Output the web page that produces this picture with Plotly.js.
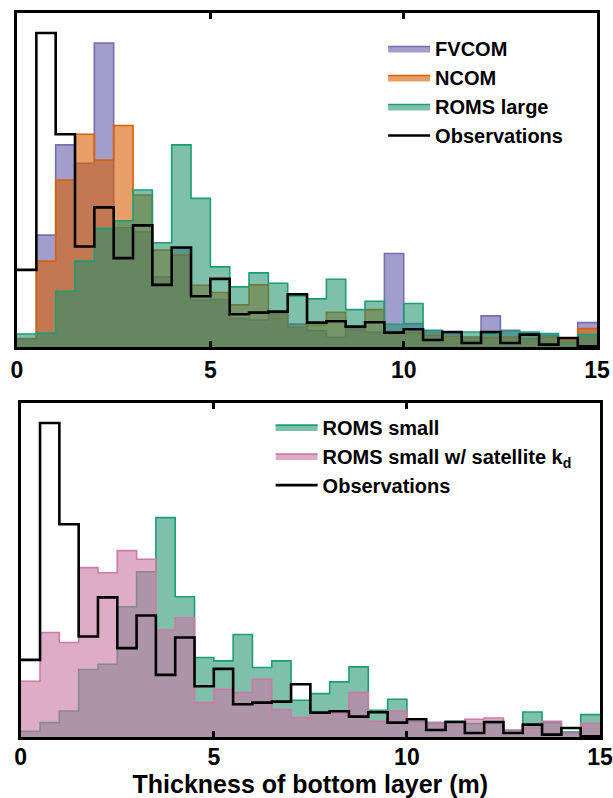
<!DOCTYPE html>
<html>
<head>
<meta charset="utf-8">
<script src="https://cdn.plot.ly/plotly-3.0.1.min.js"></script>
<style>html,body{margin:0;padding:0;background:#fff;}#chart{width:613px;height:798px;}</style>
</head>
<body>
<div id="chart"></div>
<script>
// Bin edges (m), bin width 0.5
const binEdges = [0,0.5,1,1.5,2,2.5,3,3.5,4,4.5,5,5.5,6,6.5,7,7.5,8,8.5,9,9.5,10,10.5,11,11.5,12,12.5,13,13.5,14,14.5,15];

// Relative frequency (arbitrary units, 0-100 scale of panel height)
const observations = [23.1,94,63.7,30.1,41.8,26.6,36.4,18.6,29.8,15.2,20.4,9.8,10.3,10.6,15.8,7.3,7.7,6.1,7.4,4.3,5.3,2.1,4.5,1.2,4.5,1.2,3.7,0.7,2.7,0.2];
const fvcom = [2.5,33.5,60.5,55,91,35.7,34.5,21,29.5,14,14.2,8.5,8.1,10,6.9,4.9,2.9,5.5,4.5,28,7,4.5,4,3,9.3,5,4,3.5,2.5,7.3];
const ncom = [2.3,25.7,50,63.7,56,66.3,45.5,29,27.5,18.5,16.3,12.6,18.6,10.6,5.9,6.6,10.4,5,11.2,4.5,4.3,3.5,3.2,2.8,2.8,3,2.5,3,2,5.5];
const romsLarge = [3.9,4.2,16.7,25.7,35.5,37.8,47,31.2,60.5,44.5,24,18,22.2,19.1,15.3,14.4,20.3,11.2,13.7,6.8,13,5,4.5,4.5,4,4.7,4.5,4,1.5,3.7];
const romsSmall = [1.7,4.3,7.8,20.2,21.8,39,49.5,65.7,42,23.8,22.8,30.7,20.8,22.8,11,13,16.5,21,8,11.3,4.7,4.3,4.7,4,4,2,7.5,4.3,1.5,6.7];
const romsSmallSat = [16.7,31.3,28.3,50.7,49.2,55.8,53.2,32,35.7,10.3,14.3,13.3,17.3,8.2,5.8,7.2,7,13.3,4.7,7.8,4.5,4.3,3.5,5.3,5.7,2,2.8,4.7,1,4];

const seriesNames = {
  fvcom: 'FVCOM', ncom: 'NCOM', romsLarge: 'ROMS large', obs: 'Observations',
  romsSmall: 'ROMS small', romsSmallSat: 'ROMS small w/ satellite k<sub>d</sub>'
};

function stepY(vals){ return vals.concat([vals[vals.length-1]]); }

function filled(vals, name, line, fill, xa, ya, leg){
  return {
    type:'scatter', mode:'lines', x: binEdges, y: stepY(vals), name: name,
    line:{shape:'hv', color: line, width:1.6},
    fill:'tozeroy', fillcolor: fill,
    xaxis: xa, yaxis: ya, legend: leg, hoverinfo:'skip'
  };
}
function obsTrace(xa, ya, leg){
  return {
    type:'scatter', mode:'lines', x: binEdges, y: stepY(observations), name: seriesNames.obs,
    line:{shape:'hv', color:'#000', width:2.6},
    xaxis: xa, yaxis: ya, legend: leg, hoverinfo:'skip'
  };
}

const data = [
  filled(fvcom, seriesNames.fvcom, '#7570b3', 'rgba(117,112,179,0.68)', 'x', 'y', 'legend'),
  filled(ncom, seriesNames.ncom, '#d95f02', 'rgba(217,95,2,0.6)', 'x', 'y', 'legend'),
  filled(romsLarge, seriesNames.romsLarge, '#1b9e77', 'rgba(30,145,105,0.57)', 'x', 'y', 'legend'),
  obsTrace('x', 'y', 'legend'),
  filled(romsSmall, seriesNames.romsSmall, '#1b9e77', 'rgba(30,145,105,0.57)', 'x2', 'y2', 'legend2'),
  filled(romsSmallSat, seriesNames.romsSmallSat, '#cc79a7', 'rgba(204,121,167,0.62)', 'x2', 'y2', 'legend2'),
  obsTrace('x2', 'y2', 'legend2')
];

const boldFont = {family:'Liberation Sans, Arial, sans-serif', size:23, color:'#000', weight:'bold'};
function xax(domain, anchor, extra){
  return Object.assign({
    domain: domain, anchor: anchor, range:[0,15], tickvals:[0,5,10,15], ticktext:['0','5','10','15'],
    ticks:'inside', ticklen:6, tickwidth:3, tickcolor:'#000',
    showline:true, linewidth:3, linecolor:'#000', mirror:'ticks',
    showgrid:false, zeroline:false, tickfont: boldFont, automargin:false
  }, extra||{});
}
function yax(domain, anchor){
  return {
    domain: domain, anchor: anchor, range:[0,100], showticklabels:false, ticks:'',
    showline:true, linewidth:3, linecolor:'#000', mirror:true,
    showgrid:false, zeroline:false, automargin:false
  };
}
const legendFont = {family:'Liberation Sans, Arial, sans-serif', size:20, color:'#000', weight:'bold'};

const layout = {
  width:613, height:798,
  margin:{l:17, r:13, t:13, b:61},
  paper_bgcolor:'#fff', plot_bgcolor:'#fff',
  showlegend:true,
  xaxis: xax([0,0.995], 'y'),
  yaxis: yax([0.5387,1], 'x'),
  xaxis2: xax([0.0064,1], 'y2', {ticklabelstandoff:-3, title:{text:'Thickness of bottom layer (m)', font:{family:'Liberation Sans, Arial, sans-serif', size:25, color:'#000', weight:'bold'}, standoff:3}}),
  yaxis2: yax([0,0.4613], 'x2'),
  legend:{x:0.628, y:0.978, xanchor:'left', yanchor:'top', bgcolor:'rgba(0,0,0,0)', font: legendFont, itemwidth:42, tracegroupgap:0},
  legend2:{x:0.435, y:0.455, xanchor:'left', yanchor:'top', bgcolor:'rgba(0,0,0,0)', font: legendFont, itemwidth:42, tracegroupgap:0}
};

Plotly.newPlot('chart', data, layout, {displayModeBar:false, staticPlot:true});
</script>
</body>
</html>
